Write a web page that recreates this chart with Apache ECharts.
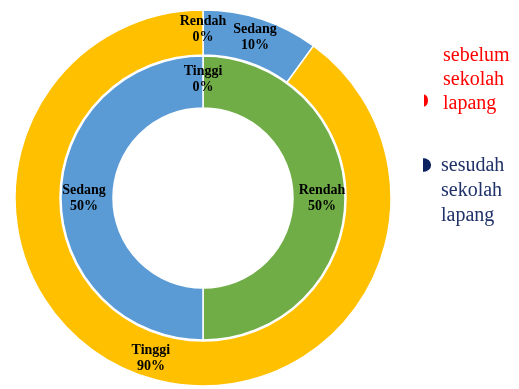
<!DOCTYPE html>
<html>
<head>
<meta charset="utf-8">
<script src="https://cdn.jsdelivr.net/npm/echarts@6/dist/echarts.min.js"></script>
<style>
  html, body { margin: 0; padding: 0; background: #ffffff; }
  #chart { width: 519px; height: 389px; }
</style>
</head>
<body>
<div id="chart"></div>
<script>
// Kategori tingkat pengetahuan
var categoriesBefore = ['Tinggi', 'Rendah', 'Sedang'];
var valuesBefore = [0, 50, 50];          // sebelum sekolah lapang (cincin dalam)
var categoriesAfter = ['Rendah', 'Sedang', 'Tinggi'];
var valuesAfter = [0, 10, 90];           // sesudah sekolah lapang (cincin luar)

var seriesNames = ['sebelum sekolah lapang', 'sesudah sekolah lapang'];

var colorOf = { Rendah: '#70AD47', Sedang: '#5B9BD5', Tinggi: '#FFC000' };

function buildData(cats, vals) {
  return cats.map(function (c, i) {
    return { name: c, value: vals[i], itemStyle: { color: colorOf[c] } };
  });
}

var labelStyle = {
  show: true,
  position: 'inside',
  formatter: function (p) { return p.name + '\n' + p.value + '%'; },
  fontFamily: 'Liberation Serif',
  fontWeight: 'bold',
  fontSize: 14,
  lineHeight: 16,
  color: '#000000'
};

var chart = echarts.init(document.getElementById('chart'), null, { renderer: 'canvas' });

chart.setOption({
  animation: false,
  legend: [
    {
      orient: 'vertical',
      left: 422,
      top: 43,
      padding: 0,
      itemWidth: 15,
      itemHeight: 72,
      selectedMode: false,
      formatter: function (n) { return n.split(' ').join('\n'); },
      textStyle: { fontFamily: 'Liberation Serif', fontSize: 20, lineHeight: 24 },
      data: [{
        name: seriesNames[0],
        icon: 'path://M0,0 M15,72 M0,49 C8,50 8,63 0,64 Z',
        itemStyle: { color: '#FF0000' },
        textStyle: { color: '#FF0000' }
      }]
    },
    {
      orient: 'vertical',
      left: 421,
      top: 152,
      padding: 0,
      itemWidth: 14,
      itemHeight: 75,
      selectedMode: false,
      formatter: function (n) { return n.split(' ').join('\n'); },
      textStyle: { fontFamily: 'Liberation Serif', fontSize: 20, lineHeight: 25 },
      data: [{
        name: seriesNames[1],
        icon: 'path://M0,0 M14,75 M0,4 C13.5,4 13.5,20 0,20 Z',
        itemStyle: { color: '#0D2260' },
        textStyle: { color: '#1F3168' }
      }]
    }
  ],
  series: [
    {
      name: seriesNames[0],
      type: 'pie',
      center: [203, 198],
      radius: [90, 142],
      startAngle: 90,
      clockwise: true,
      avoidLabelOverlap: false,
      itemStyle: { borderColor: '#ffffff', borderWidth: 1.5 },
      label: labelStyle,
      labelLine: { show: false },
      emphasis: { disabled: true },
      data: buildData(categoriesBefore, valuesBefore)
    },
    {
      name: seriesNames[1],
      type: 'pie',
      center: [203, 198],
      radius: [143, 188],
      startAngle: 90,
      clockwise: true,
      avoidLabelOverlap: false,
      itemStyle: { borderColor: '#ffffff', borderWidth: 1.5 },
      label: labelStyle,
      labelLine: { show: false },
      emphasis: { disabled: true },
      data: buildData(categoriesAfter, valuesAfter)
    }
  ]
});
</script>
</body>
</html>
